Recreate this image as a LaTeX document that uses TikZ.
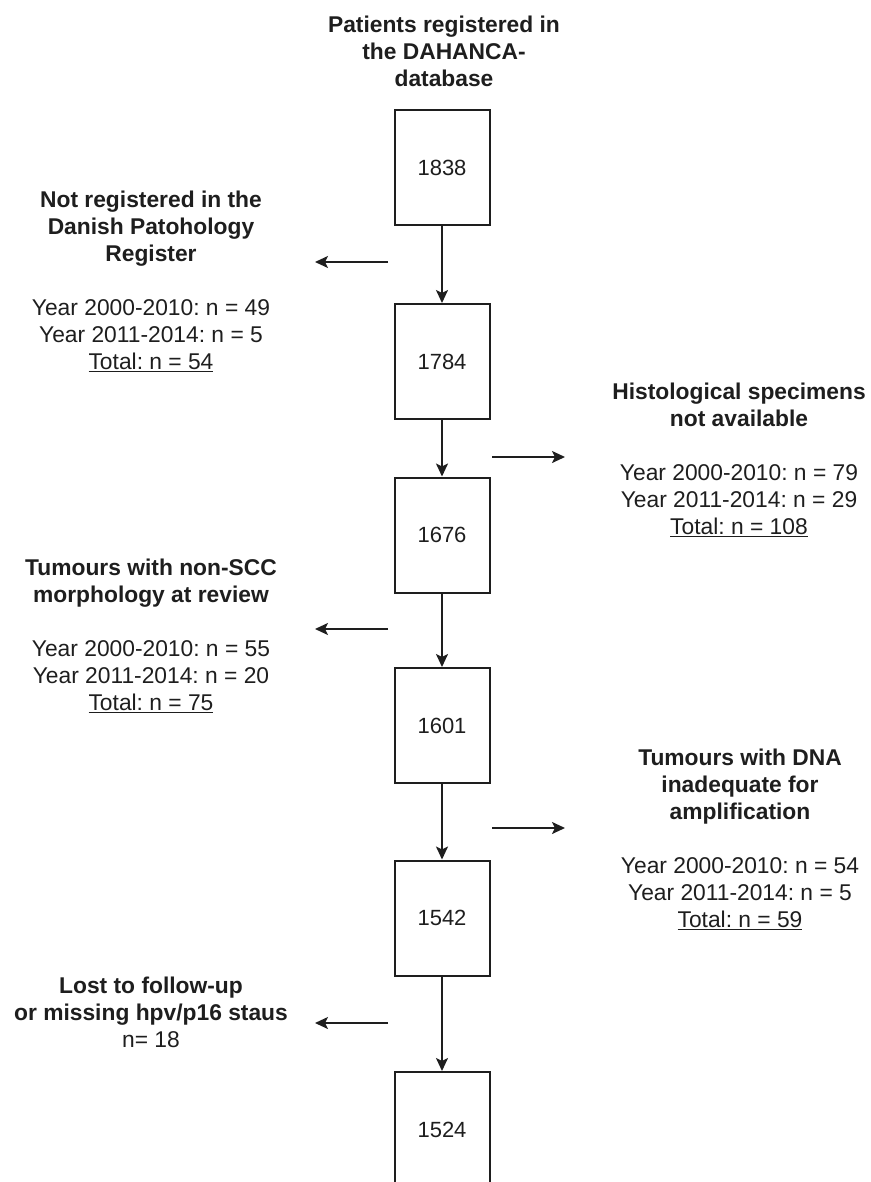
\documentclass[tikz,border=0pt]{standalone}
\usepackage{fontspec}
\setmainfont{Liberation Sans}
\usepackage{tikz}
\usetikzlibrary{arrows.meta,positioning}
\usepackage{xcolor}
\definecolor{ink}{RGB}{30,30,30}
\tikzset{
  cnt/.style={draw=ink,line width=2pt,minimum width=95pt,minimum height=115pt,
    inner sep=0pt,text=ink,font=\fontsize{22}{26}\selectfont},
  ar/.style={draw=ink,line width=2pt,-{Stealth[length=13pt,width=12pt,inset=3pt]}},
  lbl/.style={align=center,inner sep=0pt,anchor=north,text=ink,
    font=\fontsize{22.8}{27}\selectfont},
}
\newcommand{\hd}[1]{\textbf{#1}}
\frenchspacing

\begin{document}
\begin{tikzpicture}[x=1pt,y=-1pt]
  \useasboundingbox (0,0) rectangle (870,1182);
  \node[lbl] (src) at (444,16) {\hd{Patients registered in}\\ \hd{the DAHANCA-}\\ \hd{database}};
  \node[cnt] (n1838) at (442,167.5) {1838};
  \node[cnt] (n1784) at (442,361.5) {1784};
  \node[cnt] (n1676) at (442,535) {1676};
  \node[cnt] (n1601) at (442,725.5) {1601};
  \node[cnt] (n1542) at (442,918) {1542};
  \node[cnt] (n1524) at (442,1129.5) {1524};
  \node[lbl] (reg) at (151,191)
    {\hd{Not registered in the}\\ \hd{Danish Patohology}\\ \hd{Register}\\[27pt]
     Year 2000-2010: n = 49\\ Year 2011-2014: n = 5\\ \underline{Total: n = 54}};
  \node[lbl] (hist) at (739,383)
    {\hd{Histological specimens}\\ \hd{not available}\\[27pt]
     Year 2000-2010: n = 79\\ Year 2011-2014: n = 29\\ \underline{Total: n = 108}};
  \node[lbl] (morph) at (151,559)
    {\hd{Tumours with non-SCC}\\ \hd{morphology at review}\\[27pt]
     Year 2000-2010: n = 55\\ Year 2011-2014: n = 20\\ \underline{Total: n = 75}};
  \node[lbl] (dna) at (740,749)
    {\hd{Tumours with DNA}\\ \hd{inadequate for}\\ \hd{amplification}\\[27pt]
     Year 2000-2010: n = 54\\ Year 2011-2014: n = 5\\ \underline{Total: n = 59}};
  \node[lbl] (lost) at (151,977)
    {\hd{Lost to follow-up}\\ \hd{or missing hpv/p16 staus}\\ n= 18};
  \coordinate (o1a) at (388,262);  \coordinate (o1b) at (315,262);
  \coordinate (o2a) at (492,457);  \coordinate (o2b) at (565,457);
  \coordinate (o3a) at (388,629);  \coordinate (o3b) at (315,629);
  \coordinate (o4a) at (492,828);  \coordinate (o4b) at (565,828);
  \coordinate (o5a) at (388,1023); \coordinate (o5b) at (315,1023);
  \draw[ar] (n1838) -- (n1784);
  \draw[ar] (n1784) -- (n1676);
  \draw[ar] (n1676) -- (n1601);
  \draw[ar] (n1601) -- (n1542);
  \draw[ar] (n1542) -- (n1524);
  \foreach \i in {1,...,5}
    \draw[ar] (o\i a) -- (o\i b);
\end{tikzpicture}
\end{document}
